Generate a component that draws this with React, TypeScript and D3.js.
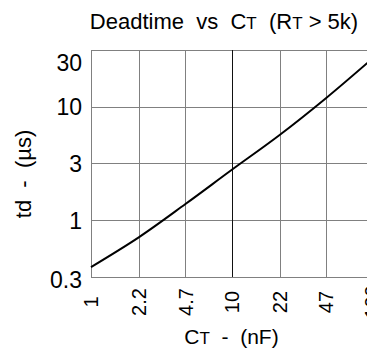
import React, { useEffect, useRef } from "react";
import * as d3 from "d3";

// capacitor values on the x grid (nF)
const ctTicks = [1, 2.2, 4.7, 10, 22, 47, 100];
// dead time grid labels (us), grid is half-decade spaced
const tdTicks = ["0.3", "1", "3", "10", "30"];

// curve
const ctValues = [1, 2.2, 4.7, 10, 22, 47, 100];
const tdValues = [0.387, 0.711, 1.39, 2.77, 5.64, 11.9, 26.4];

const FONT = "'Liberation Sans', Arial, Helvetica, sans-serif";

export default function App() {
    const ref = useRef<SVGSVGElement | null>(null);

    useEffect(() => {
        const svgEl = ref.current;
        if (!svgEl) return;
        const root = d3.select(svgEl);
        root.selectAll("*").remove();

        const margin = { top: 50, left: 91 };
        const width = 281, height = 227;

        const svg = root.append("g")
            .attr("transform", "translate(" + margin.left + "," + margin.top + ")");

        const x = d3.scaleLog().domain([1, 100]).range([0, width]);
        // half-decade grid: 0.3 ~ 10^-0.5 ... 30 ~ 10^1.5
        const y = d3.scaleLog().domain([Math.pow(10, -0.5), Math.pow(10, 1.5)]).range([height, 0]);
        const yTickVal = tdTicks.map((_, i) => Math.pow(10, -0.5 + i * 0.5));

        // Grid
        svg.append("g")
            .selectAll("line")
            .data(yTickVal)
            .join("line")
            .attr("x1", 0)
            .attr("x2", width)
            .attr("y1", d => Math.round(y(d)) + 0.5)
            .attr("y2", d => Math.round(y(d)) + 0.5)
            .attr("stroke", "#808080")
            .attr("stroke-width", 1);

        svg.append("g")
            .selectAll("line")
            .data(ctTicks)
            .join("line")
            .attr("x1", d => Math.round(x(d)) + 0.5)
            .attr("x2", d => Math.round(x(d)) + 0.5)
            .attr("y1", 0)
            .attr("y2", height)
            .attr("stroke", d => d === 10 ? "#111" : "#808080")
            .attr("stroke-width", 1);

        // Curve
        const line = d3.line<number>()
            .curve(d3.curveCatmullRom)
            .x((d, i) => x(ctValues[i]))
            .y(d => y(d));

        svg.append("path")
            .datum(tdValues)
            .attr("fill", "none")
            .attr("stroke", "#000")
            .attr("stroke-width", 2)
            .attr("d", line);

        // Y tick labels
        svg.append("g")
            .selectAll("text")
            .data(yTickVal)
            .join("text")
            .attr("x", -9)
            .attr("y", (d, i) => y(d) + (i === tdTicks.length - 1 ? 13 : i === 0 ? 3 : 0))
            .attr("dy", "0.36em")
            .attr("text-anchor", "end")
            .attr("font-family", FONT)
            .attr("font-size", 23)
            .attr("fill", "#000")
            .text((d, i) => tdTicks[i]);

        // X tick labels, rotated
        svg.append("g")
            .selectAll("text")
            .data(ctTicks)
            .join("text")
            .attr("transform", d => "translate(" + x(d) + "," + (height + 25) + ") rotate(-90)")
            .attr("dy", "0.36em")
            .attr("text-anchor", "middle")
            .attr("font-family", FONT)
            .attr("font-size", 20)
            .attr("fill", "#000")
            .text(d => String(d));

        // Titles
        const title = root.append("text")
            .attr("x", 224)
            .attr("y", 29)
            .attr("text-anchor", "middle")
            .attr("font-family", FONT)
            .attr("font-size", 22)
            .attr("fill", "#000")
            .attr("xml:space", "preserve");
        title.append("tspan").text("Deadtime  vs  C");
        title.append("tspan").attr("font-size", 17).text("T");
        title.append("tspan").text("  (R");
        title.append("tspan").attr("font-size", 17).text("T");
        title.append("tspan").text(" > 5k)");

        const xTitle = root.append("text")
            .attr("x", margin.left + x(10))
            .attr("y", 344)
            .attr("text-anchor", "middle")
            .attr("font-family", FONT)
            .attr("font-size", 21)
            .attr("fill", "#000")
            .attr("xml:space", "preserve");
        xTitle.append("tspan").text("C");
        xTitle.append("tspan").attr("font-size", 17).text("T");
        xTitle.append("tspan").text("  -  (nF)");

        root.append("text")
            .attr("transform", "translate(31,174) rotate(-90)")
            .attr("text-anchor", "middle")
            .attr("font-family", FONT)
            .attr("font-size", 22)
            .attr("fill", "#000")
            .attr("xml:space", "preserve")
            .text("td  -  (\u00b5s)");
    }, []);

    return (
        <svg ref={ref} width={367} height={358}
             style={{ position: "absolute", left: 0, top: 0, background: "#fff" }} />
    );
}
